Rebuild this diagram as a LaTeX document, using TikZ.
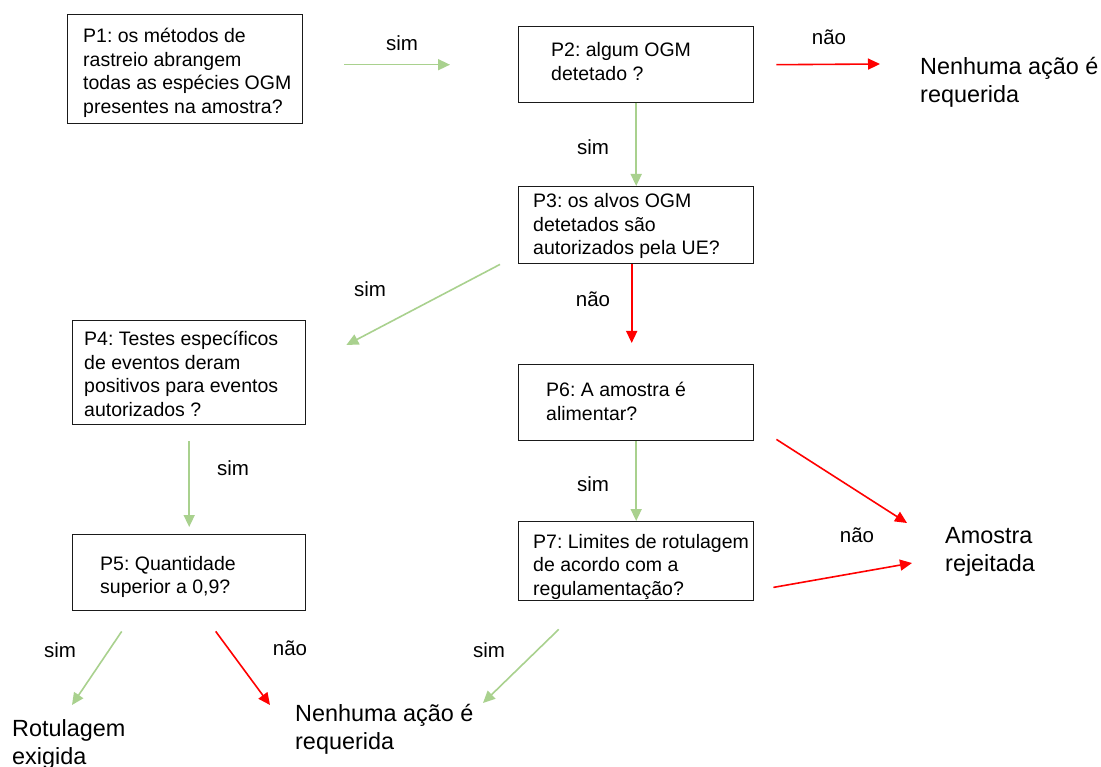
\documentclass[tikz,border=0pt]{standalone}
\usepackage{fontspec}
\setmainfont{Liberation Sans}
\usetikzlibrary{arrows.meta,calc}
\definecolor{lgreen}{HTML}{A9D18E}
\definecolor{pred}{HTML}{FF0000}
\definecolor{boxline}{HTML}{1A1A1A}
\frenchspacing
\newcommand{\twolines}[2]{\vtop{\hbox{#1}\hbox{#2}}}
\newcommand{\threelines}[3]{\vtop{\hbox{#1}\hbox{#2}\hbox{#3}}}
\newcommand{\fourlines}[4]{\vtop{\hbox{#1}\hbox{#2}\hbox{#3}\hbox{#4}}}
\begin{document}
\begin{tikzpicture}[x=1pt,y=-1pt,
  qbox/.style={draw=boxline, line width=1.4pt, rectangle, inner sep=0pt, anchor=north west},
  qtext/.style={inner sep=0pt, anchor=base west, font=\fontsize{19.5}{23.5}\selectfont\frenchspacing},
  endtext/.style={inner sep=0pt, anchor=base west, font=\fontsize{23.4}{28}\selectfont\frenchspacing},
  lbl/.style={inner sep=0pt, anchor=base, font=\fontsize{20.5}{24}\selectfont},
  yesarrow/.style={draw=lgreen, line width=1.6pt, -{Triangle[length=12pt,width=11pt]}},
  noarrow/.style={draw=pred, line width=1.6pt, -{Triangle[length=12pt,width=11pt]}}
]
\useasboundingbox (0,0) rectangle (1101,767);
\fill[white] (0,0) rectangle (1101,767);

% boxes
\node[qbox, minimum width=235pt, minimum height=109pt] (p1) at (67,14) {};
\node[qbox, minimum width=235pt, minimum height=76pt] (p2) at (518,26) {};
\node[qbox, minimum width=235pt, minimum height=77pt] (p3) at (518,186) {};
\node[qbox, minimum width=233pt, minimum height=104pt] (p4) at (72,320) {};
\node[qbox, minimum width=233pt, minimum height=76pt] (p5) at (72,534) {};
\node[qbox, minimum width=235pt, minimum height=76pt] (p6) at (518,364) {};
\node[qbox, minimum width=235pt, minimum height=79pt] (p7) at (518,521) {};

% box texts
\node[qtext] (p1t) at (83,43) {\fourlines{P1: os métodos de}{rastreio abrangem}{todas as espécies OGM}{presentes na amostra?}};
\node[qtext] (p2t) at (551,57) {\twolines{P2: algum OGM}{detetado ?}};
\node[qtext] (p3t) at (533,208) {\threelines{P3: os alvos OGM}{detetados são}{autorizados pela UE?}};
\node[qtext] (p4t) at (84,346) {\fourlines{P4: Testes específicos}{de eventos deram}{positivos para eventos}{autorizados ?}};
\node[qtext] (p5t) at (100,570) {\twolines{P5: Quantidade}{superior a 0,9?}};
\node[qtext] (p6t) at (546,397) {\twolines{P6: A amostra é}{alimentar?}};
\node[qtext] (p7t) at (533,548) {\threelines{P7: Limites de rotulagem}{de acordo com a}{regulamentação?}};

% end texts
\node[endtext] (nenA) at (920,75) {\twolines{Nenhuma ação é}{requerida}};
\node[endtext] (amo) at (945,543) {\twolines{Amostra}{rejeitada}};
\node[endtext] (nenB) at (295,721) {\twolines{Nenhuma ação é}{requerida}};
\node[endtext] (rot) at (12,736) {\twolines{Rotulagem}{exigida}};

% connectors
\draw[yesarrow] ($(p1.east)+(41,-4.5)$) -- ($(p2.west)+(-68,0)$);
\draw[noarrow] ($(p2.east)+(22,0)$) -- ($(nenA.base west)+(-40,-11)$);
\draw[yesarrow] (p2.south) -- (p3.north);
\draw[yesarrow] ($(p3.south west)+(-18,0)$) -- ($(p4.north east)+(40,25)$);
\draw[noarrow] ($(p3.south)+(-4.5,0)$) -- ($(p6.north)+(-4.5,-21)$);
\draw[yesarrow] ($(p4.south)+(0,16)$) -- ($(p5.north)+(0,-7)$);
\draw[yesarrow] (p6.south) -- (p7.north);
\draw[noarrow] ($(p6.south east)+(22,-2)$) -- ($(amo.base west)+(-38,-20)$);
\draw[noarrow] ($(p7.south east)+(19,-14)$) -- ($(amo.base west)+(-33,20)$);
\draw[yesarrow] ($(p5.south)+(-67.5,20)$) -- ($(rot.base west)+(60,-31)$);
\draw[noarrow] ($(p5.south)+(26.5,20)$) -- ($(nenB.base west)+(-25,-16)$);
\draw[yesarrow] ($(p7.south)+(-77.5,28)$) -- ($(nenB.base west)+(188,-18)$);

% labels
\node[lbl] (l1) at (402,51) {sim};
\node[lbl] (l2) at (829,45) {não};
\node[lbl] (l3) at (593,155) {sim};
\node[lbl] (l4) at (370,297) {sim};
\node[lbl] (l5) at (593,307) {não};
\node[lbl] (l6) at (233,475) {sim};
\node[lbl] (l7) at (593,491) {sim};
\node[lbl] (l8) at (857,542) {não};
\node[lbl] (l9) at (60,657) {sim};
\node[lbl] (l10) at (290,655) {não};
\node[lbl] (l11) at (489,657) {sim};
\end{tikzpicture}
\end{document}
